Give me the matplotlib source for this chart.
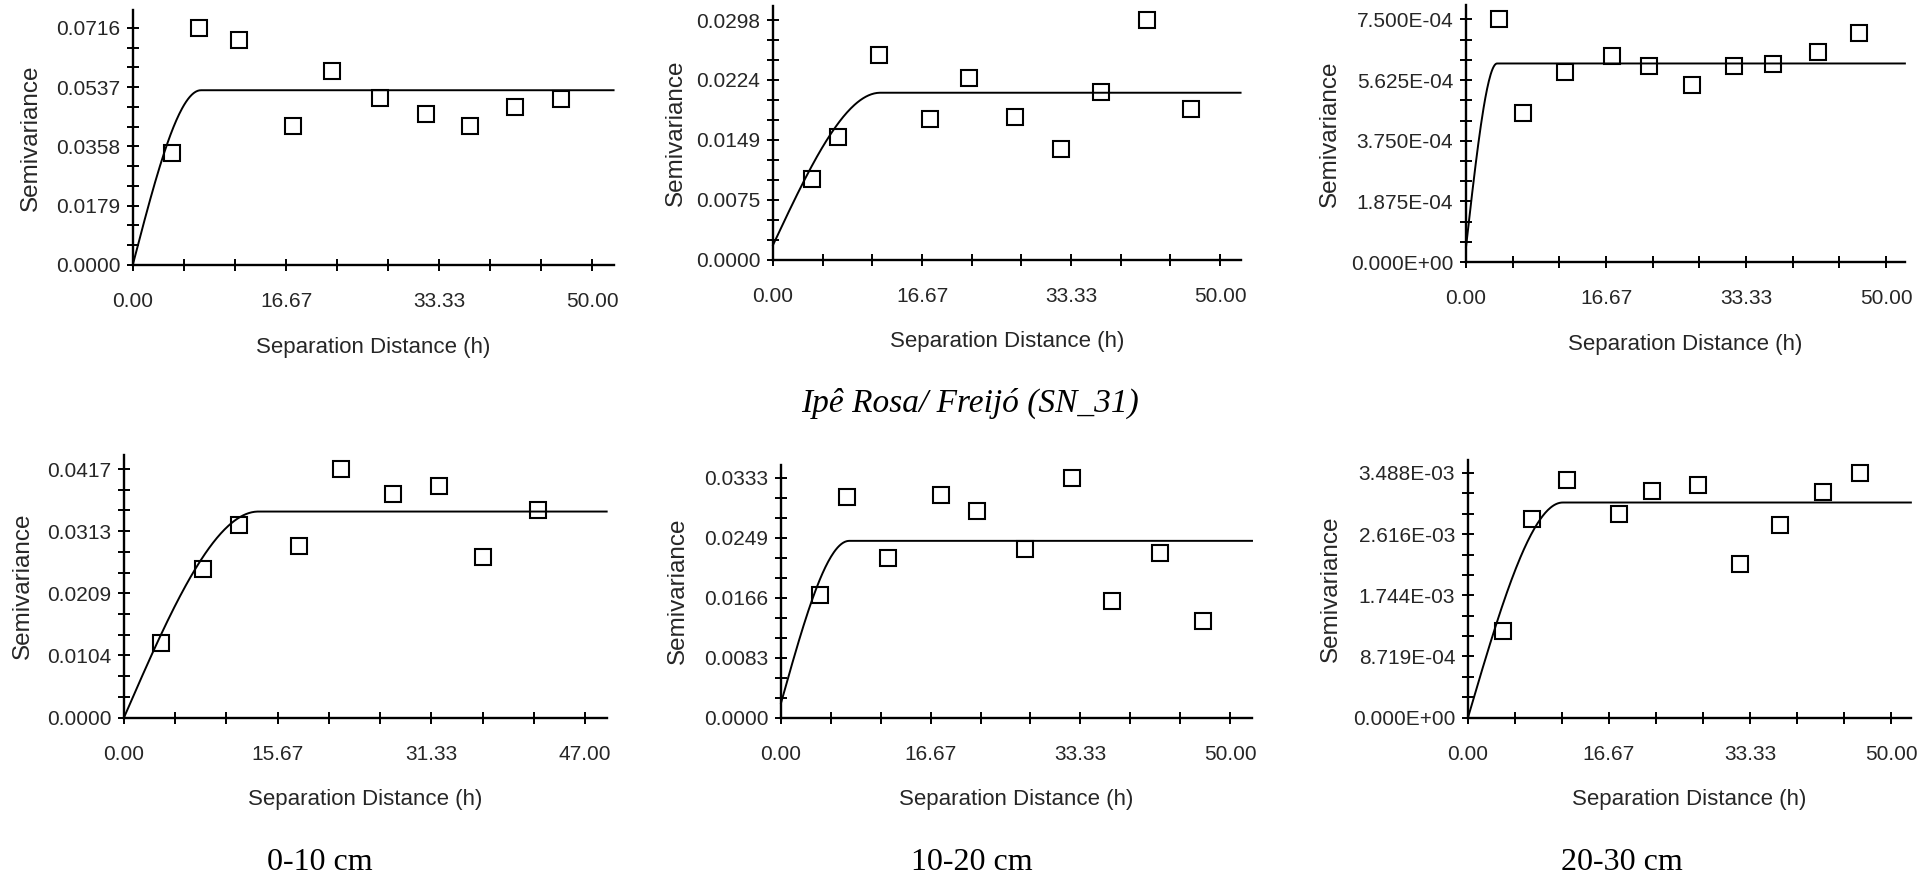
import matplotlib.pyplot as plt
import numpy as np

plt.rcParams['font.family'] = ['Liberation Sans', 'DejaVu Sans']

# experimental semivariances (lag distance h, gamma) for each depth
# top row
h_top1 = [4.27, 7.21, 11.57, 17.44, 21.71, 26.87, 31.94, 36.74, 41.64, 46.62]
g_top1 = [0.0337, 0.0716, 0.0681, 0.0419, 0.0585, 0.0504, 0.0455, 0.0419, 0.0477, 0.0500]
h_top2 = [4.38, 7.30, 11.86, 17.61, 21.90, 27.05, 32.21, 36.68, 41.88, 46.72]
g_top2 = [0.0100, 0.0152, 0.0255, 0.0175, 0.0226, 0.0177, 0.0138, 0.0208, 0.0298, 0.0187]
h_top3 = [3.94, 6.80, 11.74, 17.36, 21.84, 26.92, 31.85, 36.49, 41.91, 46.75]
g_top3 = [7.50e-4, 4.61e-4, 5.88e-4, 6.37e-4, 6.06e-4, 5.46e-4, 6.06e-4, 6.12e-4, 6.50e-4, 7.07e-4]
# bottom row
h_bot1 = [3.74, 8.03, 11.69, 17.88, 22.09, 27.45, 32.15, 36.64, 42.22]
g_bot1 = [0.0125, 0.0250, 0.0323, 0.0287, 0.0417, 0.0375, 0.0388, 0.0270, 0.0348]
h_bot2 = [4.29, 7.37, 11.92, 17.77, 21.88, 27.14, 32.41, 36.83, 42.23, 47.01]
g_bot2 = [0.0170, 0.0306, 0.0221, 0.0309, 0.0286, 0.0234, 0.0333, 0.0161, 0.0228, 0.0134]
h_bot3 = [4.15, 7.56, 11.71, 17.80, 21.71, 27.22, 32.10, 36.93, 42.00, 46.34]
g_bot3 = [1.233e-3, 2.829e-3, 3.383e-3, 2.905e-3, 3.225e-3, 3.311e-3, 2.188e-3, 2.747e-3, 3.211e-3, 3.488e-3]

# spherical model fits: nugget, sill, range
models = [(0.0003, 0.0528, 7.4), (0.0018, 0.02075, 12.0), (4.6e-5, 6.14e-4, 3.7),
          (0.0, 0.03456, 13.7), (0.0020, 0.02451, 7.6), (0.0, 3.067e-3, 11.2)]

xlab_50 = ['0.00', '16.67', '33.33', '50.00']
xlab_47 = ['0.00', '15.67', '31.33', '47.00']
ylabs = [['0.0000', '0.0179', '0.0358', '0.0537', '0.0716'],
         ['0.0000', '0.0075', '0.0149', '0.0224', '0.0298'],
         ['0.000E+00', '1.875E-04', '3.750E-04', '5.625E-04', '7.500E-04'],
         ['0.0000', '0.0104', '0.0209', '0.0313', '0.0417'],
         ['0.0000', '0.0083', '0.0166', '0.0249', '0.0333'],
         ['0.000E+00', '8.719E-04', '1.744E-03', '2.616E-03', '3.488E-03']]
ymax = [0.0716, 0.0298, 7.5e-4, 0.0417, 0.0333, 3.488e-3]
xmax = [50, 50, 50, 47, 50, 50]

title = 'Ipê Rosa/ Freijó (SN_31)'
depths = ['0-10 cm', '10-20 cm', '20-30 cm']

H = [h_top1, h_top2, h_top3, h_bot1, h_bot2, h_bot3]
G = [g_top1, g_top2, g_top3, g_bot1, g_bot2, g_bot3]
XL = [xlab_50, xlab_50, xlab_50, xlab_47, xlab_50, xlab_50]

W, HGT = 1930, 883
# pixel frame of each panel: x of origin, x of last tick, y of origin, y of top tick
frames = [(133, 592, 265, 28), (773, 1220, 259.5, 20), (1466, 1886, 262, 19.5),
          (124, 585, 717.5, 469), (781, 1230, 717.5, 477.5), (1468, 1891, 717.5, 473)]
xext = [1.047, 1.046, 1.045, 1.047, 1.049, 1.047]
yext = [1.077, 1.058, 1.059, 1.058, 1.053, 1.055]
ylab_off = [102, 97, 136, 101, 103, 137]

fig = plt.figure(figsize=(19.3, 8.83), dpi=100)

for i in range(6):
    x0, x1, y0, y1 = frames[i]
    wpx = (x1 - x0) * xext[i]
    hpx = (y0 - y1) * yext[i]
    ax = fig.add_axes([x0 / W, 1 - y0 / HGT, wpx / W, hpx / HGT])

    xr = xmax[i] * xext[i]
    yr = ymax[i] * yext[i]

    c0, sill, a = models[i]
    hh = np.linspace(0, xr, 500)
    r = np.clip(hh / a, 0, 1)
    gam = c0 + (sill - c0) * (1.5 * r - 0.5 * r ** 3)
    ax.plot(hh, gam, color='black', lw=1.4, clip_on=False)

    ax.plot(H[i], G[i], ls='none', marker='s', ms=11.5, mfc='none',
            mec='black', mew=1.5, clip_on=False)

    ax.set_xlim(0, xr)
    ax.set_ylim(0, yr)
    for s in ['top', 'right']:
        ax.spines[s].set_visible(False)
    for s in ['left', 'bottom']:
        ax.spines[s].set_linewidth(1.7)

    xt = np.arange(10) * xmax[i] / 9
    ax.set_xticks(xt)
    ax.set_xticklabels([XL[i][k // 3] if k % 3 == 0 else '' for k in range(10)])
    yt = np.arange(13) * ymax[i] / 12
    ax.set_yticks(yt)
    ax.set_yticklabels([ylabs[i][k // 3] if k % 3 == 0 else '' for k in range(13)])
    ax.tick_params(direction='inout', length=8.5, width=1.4, colors='black',
                   labelcolor='#262626', labelsize=15)
    ax.tick_params(axis='x', pad=15.5)
    ax.tick_params(axis='y', pad=5)

    ax.set_xlabel('Separation Distance (h)', fontsize=16, color='#262626')
    ax.xaxis.set_label_coords(0.5, -72 / hpx)
    ax.set_ylabel('Semivariance', fontsize=17.5, color='#262626', va='center')
    ax.yaxis.set_label_coords(-ylab_off[i] / wpx, 0.5)

fig.text(970 / W, 1 - 403 / HGT, title, fontsize=24, style='italic',
         family='Liberation Serif', ha='center', va='center')
for k, xc in enumerate([320, 972, 1622]):
    fig.text(xc / W, 1 - 863 / HGT, depths[k], fontsize=23,
             family='Liberation Serif', ha='center', va='center')

fig.savefig('out.png', dpi=100, facecolor='white')
